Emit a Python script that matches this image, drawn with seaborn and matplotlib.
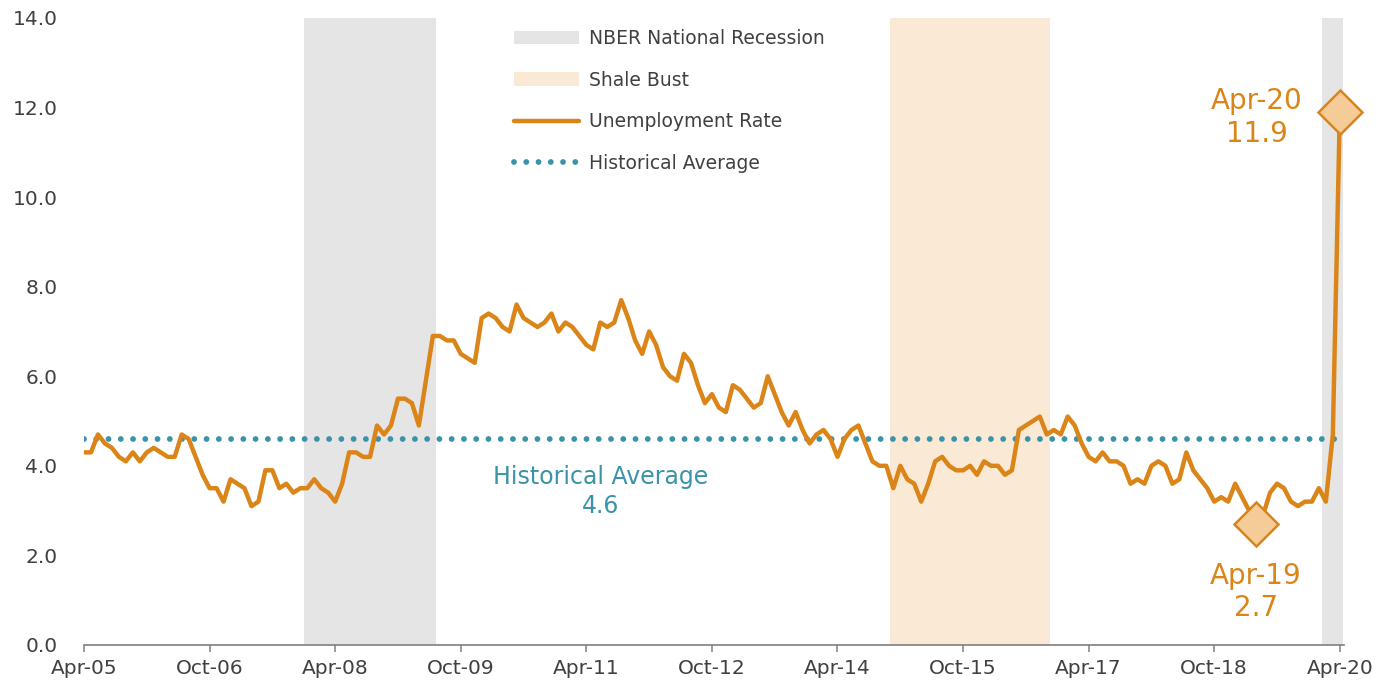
import numpy as np
import pandas as pd
import matplotlib
matplotlib.use("Agg")
import matplotlib.pyplot as plt
from matplotlib.patches import Patch
from matplotlib.lines import Line2D
import seaborn as sns

# monthly unemployment rate, Apr-05 .. Apr-20
start_month = "2005-04"
unemployment = [
    4.3, 4.3, 4.7, 4.5, 4.4, 4.2, 4.1, 4.3, 4.1, 4.3, 4.4, 4.3,
    4.2, 4.2, 4.7, 4.6, 4.2, 3.8, 3.5, 3.5, 3.2, 3.7, 3.6, 3.5,
    3.1, 3.2, 3.9, 3.9, 3.5, 3.6, 3.4, 3.5, 3.5, 3.7, 3.5, 3.4,
    3.2, 3.6, 4.3, 4.3, 4.2, 4.2, 4.9, 4.7, 4.9, 5.5, 5.5, 5.4,
    4.9, 5.9, 6.9, 6.9, 6.8, 6.8, 6.5, 6.4, 6.3, 7.3, 7.4, 7.3,
    7.1, 7.0, 7.6, 7.3, 7.2, 7.1, 7.2, 7.4, 7.0, 7.2, 7.1, 6.9,
    6.7, 6.6, 7.2, 7.1, 7.2, 7.7, 7.3, 6.8, 6.5, 7.0, 6.7, 6.2,
    6.0, 5.9, 6.5, 6.3, 5.8, 5.4, 5.6, 5.3, 5.2, 5.8, 5.7, 5.5,
    5.3, 5.4, 6.0, 5.6, 5.2, 4.9, 5.2, 4.8, 4.5, 4.7, 4.8, 4.6,
    4.2, 4.6, 4.8, 4.9, 4.5, 4.1, 4.0, 4.0, 3.5, 4.0, 3.7, 3.6,
    3.2, 3.6, 4.1, 4.2, 4.0, 3.9, 3.9, 4.0, 3.8, 4.1, 4.0, 4.0,
    3.8, 3.9, 4.8, 4.9, 5.0, 5.1, 4.7, 4.8, 4.7, 5.1, 4.9, 4.5,
    4.2, 4.1, 4.3, 4.1, 4.1, 4.0, 3.6, 3.7, 3.6, 4.0, 4.1, 4.0,
    3.6, 3.7, 4.3, 3.9, 3.7, 3.5, 3.2, 3.3, 3.2, 3.6, 3.3, 3.0,
    2.7, 2.9, 3.4, 3.6, 3.5, 3.2, 3.1, 3.2, 3.2, 3.5, 3.2, 4.7,
    11.9,
]
historical_avg = 4.6
recessions = [("2007-12", "2009-06"), ("2020-02", "2020-04")]
shale_bust = [("2014-12", "2016-10")]
highlights = ["2019-04", "2020-04"]

dates = pd.date_range(start_month, periods=len(unemployment), freq="MS")
df = pd.DataFrame({"date": dates, "idx": np.arange(len(dates)), "rate": unemployment})
idx_of = {d.strftime("%Y-%m"): i for i, d in enumerate(dates)}

orange = "#DB8519"
teal = "#3A93A8"
grey_shade = "#E5E5E5"
peach = "#FAE9D5"
text_col = "#404040"

sns.set_theme(style="white")
plt.rcParams["font.family"] = ["DejaVu Sans"]

fig = plt.figure(figsize=(14, 6.92), dpi=100)
ax = fig.add_axes([0.06, 0.068, 0.9, 0.906])

for s, e in recessions:
    ax.axvspan(idx_of[s] - 0.5, idx_of[e] + 0.5, color=grey_shade, lw=0, zorder=0)
for s, e in shale_bust:
    ax.axvspan(idx_of[s] - 0.5, idx_of[e] + 0.5, color=peach, lw=0, zorder=0)

ax.hlines(historical_avg, df["idx"].iloc[0], df["idx"].iloc[-1], colors=teal,
          linewidth=4.2, linestyles=(0, (0.001, 2.1)), capstyle="round", zorder=2)

sns.lineplot(data=df, x="idx", y="rate", color=orange, linewidth=3.2, ax=ax, zorder=3)

hl = df[df["date"].dt.strftime("%Y-%m").isin(highlights)]
ax.plot(hl["idx"], hl["rate"], linestyle="none", marker="D", markersize=22,
        markerfacecolor="#F5CC98", markeredgecolor=orange, markeredgewidth=1.8,
        zorder=4, clip_on=False)

for _, r in hl.iterrows():
    lab = f"{r['date'].strftime('%b-%y')}\n{r['rate']:.1f}"
    if r["rate"] > historical_avg:
        ax.annotate(lab, (r["idx"], r["rate"]), xytext=(-60, -4), textcoords="offset points",
                    ha="center", va="center", color=orange, fontsize=20, linespacing=1.2)
    else:
        ax.annotate(lab, (r["idx"], r["rate"]), xytext=(0, -27), textcoords="offset points",
                    ha="center", va="top", color=orange, fontsize=20, linespacing=1.2)

ax.text(74, 3.42, f"Historical Average\n{historical_avg}", ha="center", va="center",
        color=teal, fontsize=17, linespacing=1.25)

ax.set_xlim(0, len(unemployment) - 0.4)
ax.set_ylim(0, 14)
ax.set_yticks(np.arange(0, 15, 2))
ax.set_yticklabels([f"{v:.1f}" for v in np.arange(0, 15, 2)])
tick_idx = np.arange(0, len(dates), 18)
ax.set_xticks(tick_idx)
ax.set_xticklabels([dates[i].strftime("%b-%y") for i in tick_idx])
ax.set_xlabel("")
ax.set_ylabel("")

for side in ["top", "right", "left"]:
    ax.spines[side].set_visible(False)
ax.spines["bottom"].set_color("#7F7F7F")
ax.spines["bottom"].set_linewidth(1.2)
ax.tick_params(axis="y", length=0, pad=19, labelsize=14.5, labelcolor=text_col)
ax.tick_params(axis="x", bottom=True, length=5, width=1.1, color="#7F7F7F",
               pad=5, labelsize=14.5, labelcolor=text_col, direction="out")

handles = [
    Patch(facecolor=grey_shade, edgecolor="none", label="NBER National Recession"),
    Patch(facecolor=peach, edgecolor="none", label="Shale Bust"),
    Line2D([], [], color=orange, lw=3.2, label="Unemployment Rate"),
    Line2D([], [], color=teal, lw=4.2, linestyle=(0, (0.001, 2.1)),
           dash_capstyle="round", label="Historical Average"),
]
leg = ax.legend(handles=handles, loc="upper left", bbox_to_anchor=(0.367, 0.958),
                bbox_transform=fig.transFigure, frameon=False, fontsize=13.5,
                handlelength=3.5, handletextpad=0.5, labelspacing=1.2,
                borderpad=0, borderaxespad=0)
for t in leg.get_texts():
    t.set_color(text_col)

fig.savefig("out.png", dpi=100)
